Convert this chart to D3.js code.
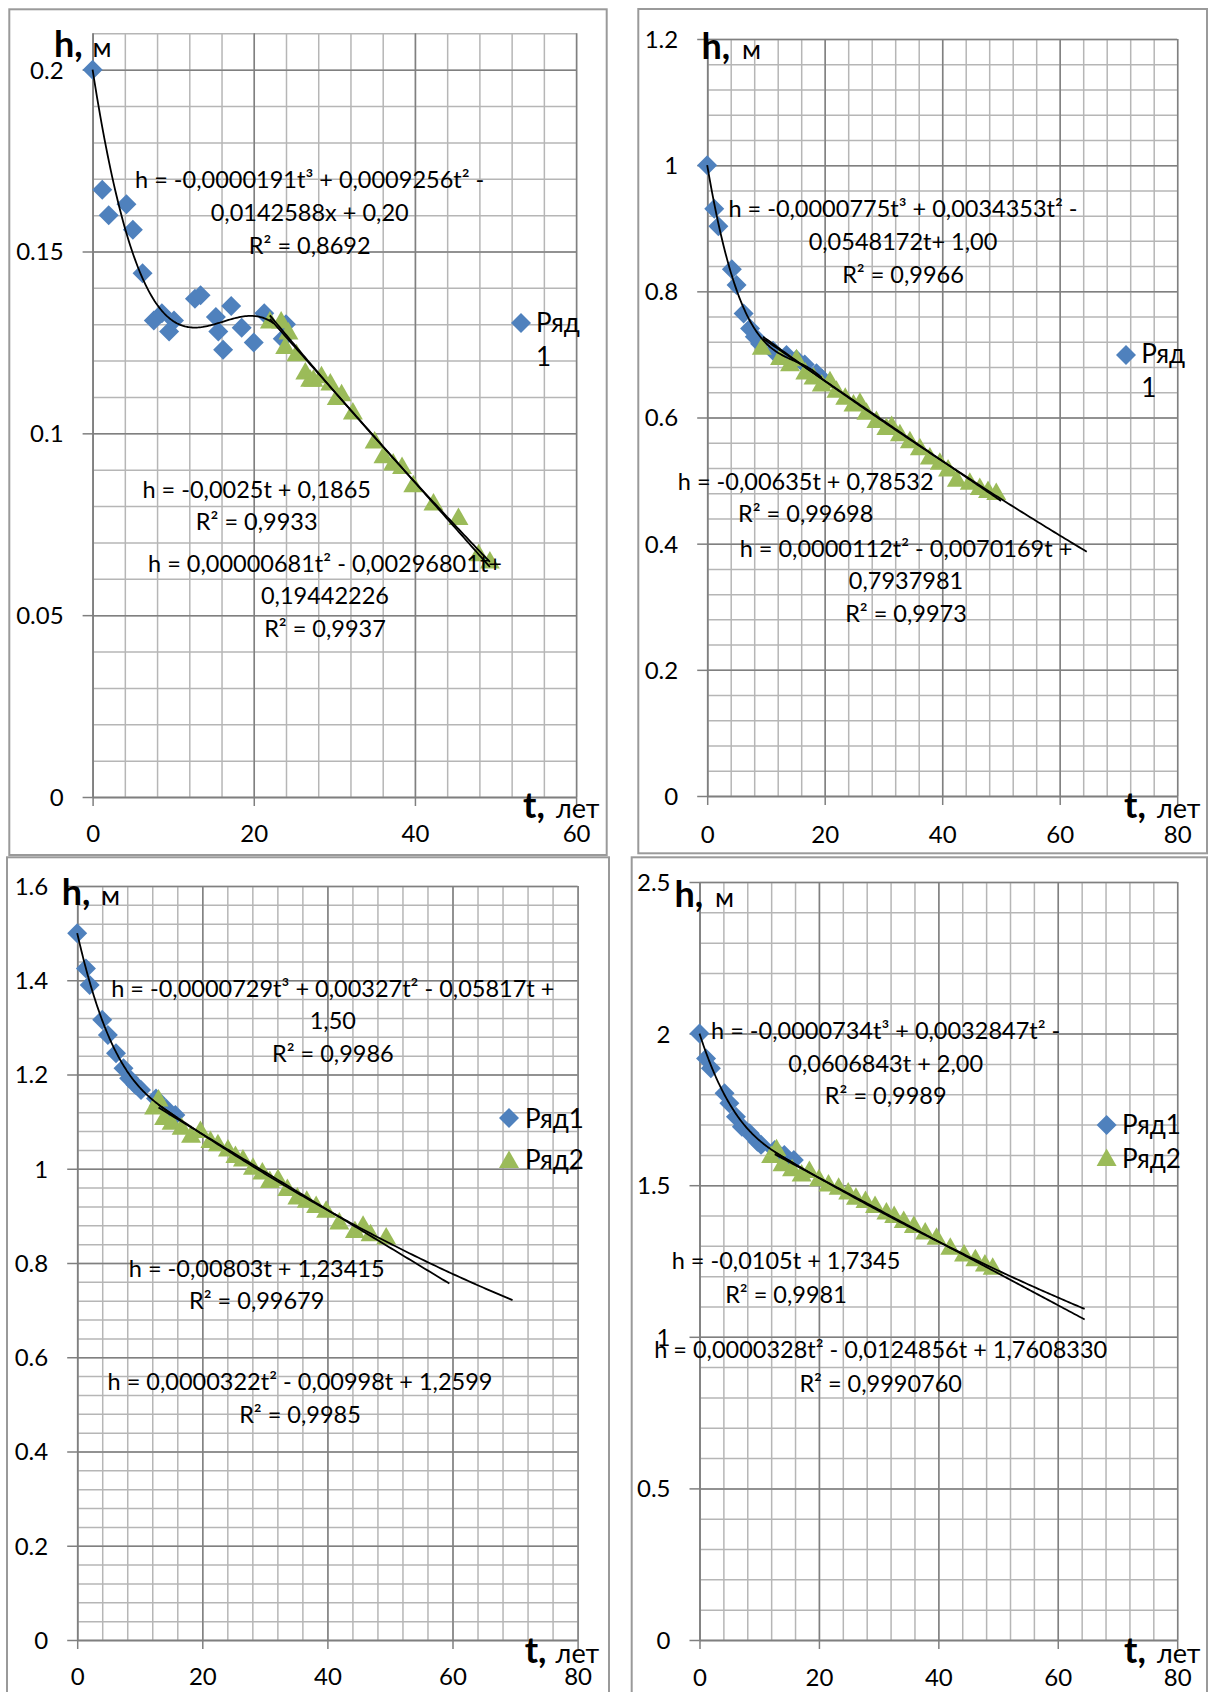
<!DOCTYPE html>
<html>
<head>
<meta charset="utf-8">
<script src="https://cdn.jsdelivr.net/npm/d3@7"></script>
<style>
  html, body { margin: 0; padding: 0; background: #fff; }
  svg { display: block; }
  text { font-family: Lato, "Open Sans", sans-serif; fill: #000; }
</style>
</head>
<body>
<svg id="chart" width="1210" height="1692"></svg>
<script>
// ---------- Panel 1: h0 = 0.2 m ----------
const p1Row1 = [[0,0.200],[1.2,0.167],[2.0,0.160],[4.2,0.163],[5.0,0.156],[6.2,0.144],[7.6,0.131],[8.6,0.133],[9.5,0.128],[10.1,0.131],[12.7,0.137],[13.4,0.138],[15.3,0.132],[15.6,0.128],[16.2,0.123],[17.2,0.135],[18.5,0.129],[20.0,0.125],[21.3,0.133],[23.6,0.126],[24.0,0.130]];
const p1Row2 = [[22.0,0.131],[23.4,0.131],[24.3,0.128],[23.9,0.124],[25.3,0.122],[26.4,0.117],[27.0,0.115],[27.4,0.115],[28.4,0.116],[29.5,0.114],[30.3,0.110],[30.9,0.111],[32.3,0.106],[35.0,0.098],[36.1,0.094],[37.3,0.092],[38.4,0.091],[39.8,0.086],[42.3,0.081],[45.4,0.077],[47.9,0.067],[49.3,0.065]];
const p1Cubic = [0.20, -0.0142588, 0.0009256, -0.0000191];
const p1Linear = [0.1865, -0.0025];
const p1Quad = [0.19442226, -0.00296801, 0.00000681];
const p1CubicSpan = [0, 22.5], p1LinearSpan = [22, 49.3], p1QuadSpan = [22, 49.3];
const p1CubicText = ["h = -0,0000191t³ + 0,0009256t² -", "0,0142588x + 0,20", "R² = 0,8692"];
const p1LinearText = ["h = -0,0025t + 0,1865", "R² = 0,9933"];
const p1QuadText = ["h = 0,00000681t² - 0,00296801t+", "0,19442226", "R² = 0,9937"];
const p1XTicks = [0, 20, 40, 60];
const p1YTicks = [0, 0.05, 0.1, 0.15, 0.2];
const p1YLabels = ["0", "0.05", "0.1", "0.15", "0.2"];
const p1Legend = ["Ряд", "1"];

// ---------- Panel 2: h0 = 1.0 m ----------
const p2Row1 = [[0,1.000],[1.2,0.931],[1.9,0.903],[4.2,0.835],[5.0,0.810],[6.2,0.765],[7.3,0.741],[8.1,0.728],[9.0,0.717],[11.2,0.706],[13.5,0.699],[15.2,0.692],[16.6,0.684],[18.6,0.670],[19.5,0.662]];
const p2Row2 = [[9.3,0.712],[12.4,0.696],[14.1,0.686],[15.2,0.694],[16.7,0.673],[18.1,0.665],[19.5,0.654],[20.9,0.659],[22.0,0.644],[23.5,0.633],[24.9,0.622],[26.0,0.625],[27.1,0.609],[28.8,0.596],[30.5,0.585],[31.4,0.588],[32.8,0.575],[34.5,0.564],[36.2,0.553],[37.9,0.538],[39.6,0.530],[41.0,0.519],[42.5,0.503],[44.7,0.498],[46.4,0.490],[47.8,0.485],[49.2,0.482]];
const p2Cubic = [1.00, -0.0548172, 0.0034353, -0.0000775];
const p2Linear = [0.78532, -0.00635];
const p2Quad = [0.7937981, -0.0070169, 0.0000112];
const p2CubicSpan = [0, 19.5], p2LinearSpan = [9.5, 50], p2QuadSpan = [9.5, 64.6];
const p2CubicText = ["h = -0,0000775t³ + 0,0034353t² -", "0,0548172t+ 1,00", "R² = 0,9966"];
const p2LinearText = ["h = -0,00635t + 0,78532", "R² = 0,99698"];
const p2QuadText = ["h = 0,0000112t² - 0,0070169t +", "0,7937981", "R² = 0,9973"];
const p2XTicks = [0, 20, 40, 60, 80];
const p2YTicks = [0, 0.2, 0.4, 0.6, 0.8, 1, 1.2];
const p2YLabels = ["0", "0.2", "0.4", "0.6", "0.8", "1", "1.2"];
const p2Legend = ["Ряд", "1"];

// ---------- Panel 3: h0 = 1.5 m ----------
const p3Row1 = [[0,1.500],[1.4,1.425],[2.0,1.390],[4.0,1.316],[4.9,1.284],[6.2,1.245],[7.4,1.213],[8.3,1.192],[9.3,1.178],[10.2,1.167],[12.6,1.149],[14.2,1.128],[15.7,1.114]];
const p3Row2 = [[12.3,1.132],[13.0,1.149],[13.9,1.110],[15.1,1.100],[16.7,1.089],[18.2,1.072],[19.7,1.082],[21.3,1.061],[22.5,1.054],[24.1,1.043],[25.3,1.029],[26.5,1.022],[28.1,1.004],[29.6,0.994],[30.8,0.976],[32.1,0.980],[33.6,0.959],[35.2,0.941],[36.7,0.934],[38.2,0.923],[39.8,0.913],[41.9,0.888],[44.4,0.870],[45.7,0.881],[46.9,0.863],[49.4,0.856]];
const p3Cubic = [1.50, -0.05817, 0.00327, -0.0000729];
const p3Linear = [1.23415, -0.00803];
const p3Quad = [1.2599, -0.00998, 0.0000322];
const p3CubicSpan = [0, 16], p3LinearSpan = [13, 59.5], p3QuadSpan = [13, 69.6];
const p3CubicText = ["h = -0,0000729t³ + 0,00327t² - 0,05817t +", "1,50", "R² = 0,9986"];
const p3LinearText = ["h = -0,00803t + 1,23415", "R² = 0,99679"];
const p3QuadText = ["h = 0,0000322t² - 0,00998t + 1,2599", "R² = 0,9985"];
const p3XTicks = [0, 20, 40, 60, 80];
const p3YTicks = [0, 0.2, 0.4, 0.6, 0.8, 1, 1.2, 1.4, 1.6];
const p3YLabels = ["0", "0.2", "0.4", "0.6", "0.8", "1", "1.2", "1.4", "1.6"];
const p3Legend = ["Ряд1", "Ряд2"];

// ---------- Panel 4: h0 = 2.0 m ----------
const p4Row1 = [[0,2.000],[1.1,1.918],[1.9,1.886],[4.2,1.803],[5.0,1.770],[6.1,1.726],[7.1,1.693],[8.4,1.671],[9.7,1.643],[10.3,1.633],[12.6,1.616],[14.2,1.600],[15.8,1.583]];
const p4Row2 = [[12.0,1.600],[12.9,1.622],[13.9,1.572],[15.5,1.556],[17.1,1.539],[18.4,1.550],[20.0,1.523],[21.6,1.506],[23.3,1.495],[24.9,1.479],[26.2,1.462],[27.8,1.451],[29.4,1.435],[31.3,1.413],[32.6,1.402],[34.2,1.385],[35.9,1.369],[37.8,1.347],[39.7,1.330],[42.0,1.297],[44.3,1.275],[46.2,1.259],[47.8,1.242],[49.1,1.231]];
const p4Cubic = [2.00, -0.0606843, 0.0032847, -0.0000734];
const p4Linear = [1.7345, -0.0105];
const p4Quad = [1.7608330, -0.0124856, 0.0000328];
const p4CubicSpan = [0, 16], p4LinearSpan = [12.6, 64.5], p4QuadSpan = [12.6, 64.5];
const p4CubicText = ["h = -0,0000734t³ + 0,0032847t² -", "0,0606843t + 2,00", "R² = 0,9989"];
const p4LinearText = ["h = -0,0105t + 1,7345", "R² = 0,9981"];
const p4QuadText = ["h = 0,0000328t² - 0,0124856t + 1,7608330", "R² = 0,9990760"];
const p4XTicks = [0, 20, 40, 60, 80];
const p4YTicks = [0, 0.5, 1, 1.5, 2, 2.5];
const p4YLabels = ["0", "0.5", "1", "1.5", "2", "2.5"];
const p4Legend = ["Ряд1", "Ряд2"];

// ---------- colours ----------
const BLUE = "#4f81bd", GREEN = "#9bbb59";
const MINOR = "#b6b6b6", MAJOR = "#808080", AXIS = "#7f7f7f", FRAME = "#9a9a9a";

// ---------- panel layout (frame, plot area, text anchors) ----------
const panels = [
  {
    frame: [9.3, 9.3, 606.7, 855], plot: [92.6, 33.3, 576.1, 797],
    xMax: 60, yMax: 0.21, xMinor: 4, yMinor: 0.01, xMajor: 20, yMajor: 0.05,
    xTicks: p1XTicks, yTicks: p1YTicks, yLabels: p1YLabels, xLabelY: 45,
    row1: p1Row1, row2: p1Row2,
    trends: [[p1Cubic, p1CubicSpan], [p1Linear, p1LinearSpan], [p1Quad, p1QuadSpan]],
    texts: [[p1CubicText, 309.7, 188.3, 32.8], [p1LinearText, 256.7, 498.3, 31.7], [p1QuadText, 325, 571.7, 32.5]],
    hTitle: [54, 56.7, 92.6], tTitle: [523, 818, 556],
    legend: p1Legend, legendWrapped: true, legendAt: [521, 323, 536, 331.7, 366]
  },
  {
    frame: [638.3, 9, 1207, 853.3], plot: [707.2, 39, 1177.2, 796],
    xMax: 80, yMax: 1.2, xMinor: 4, yMinor: 0.04, xMajor: 20, yMajor: 0.2,
    xTicks: p2XTicks, yTicks: p2YTicks, yLabels: p2YLabels, xLabelY: 46.5,
    row1: p2Row1, row2: p2Row2,
    trends: [[p2Cubic, p2CubicSpan], [p2Linear, p2LinearSpan], [p2Quad, p2QuadSpan]],
    texts: [[p2CubicText, 903, 216.7, 33], [p2LinearText, 805.7, 490, 31.7], [p2QuadText, 906, 556.7, 32.5]],
    hTitle: [701.5, 59.3, 742], tTitle: [1124, 818.3, 1157],
    legend: p2Legend, legendWrapped: true, legendAt: [1126, 355, 1141.3, 362.7, 397]
  },
  {
    frame: [7, 857.3, 609, 1700], plot: [77.2, 886, 577.6, 1640],
    xMax: 80, yMax: 1.6, xMinor: 4, yMinor: 0.04, xMajor: 20, yMajor: 0.2,
    xTicks: p3XTicks, yTicks: p3YTicks, yLabels: p3YLabels, xLabelY: 45,
    row1: p3Row1, row2: p3Row2,
    trends: [[p3Cubic, p3CubicSpan], [p3Linear, p3LinearSpan], [p3Quad, p3QuadSpan]],
    texts: [[p3CubicText, 332.8, 996.7, 32.5], [p3LinearText, 256.7, 1276.8, 32.5], [p3QuadText, 300, 1390, 32.7]],
    hTitle: [61.7, 905, 101], tTitle: [524.7, 1662.7, 555.6],
    legend: p3Legend, legendWrapped: false, legendAt: [509, 1118, 525, 1127.5, 1160, 1169]
  },
  {
    frame: [631.7, 857.3, 1207, 1700], plot: [699.5, 882, 1177.2, 1640],
    xMax: 80, yMax: 2.5, xMinor: 4, yMinor: 0.1, xMajor: 20, yMajor: 0.5,
    xTicks: p4XTicks, yTicks: p4YTicks, yLabels: p4YLabels, xLabelY: 46,
    row1: p4Row1, row2: p4Row2,
    trends: [[p4Cubic, p4CubicSpan], [p4Linear, p4LinearSpan], [p4Quad, p4QuadSpan]],
    texts: [[p4CubicText, 885.7, 1039.3, 32.4], [p4LinearText, 786, 1269.3, 34], [p4QuadText, 880.7, 1358.3, 33.4]],
    hTitle: [674.5, 906.7, 715], tTitle: [1124, 1663.3, 1157],
    legend: p4Legend, legendWrapped: false, legendAt: [1106.6, 1125, 1122, 1134, 1158, 1167.5]
  }
];

const svg = d3.select("#chart");
svg.append("rect").attr("width", 1210).attr("height", 1692).attr("fill", "#fff");

// marker shapes: square diamond and upward triangle
const diamondPath = "M0,-10L10,0L0,10L-10,0Z";
const trianglePath = "M0,-9.5L10,8L-10,8Z";

const poly = (c, t) => c.reduce((s, k, i) => s + k * Math.pow(t, i), 0);
const steps = (n, step) => d3.range(0, Math.round(n / step) + 1).map(i => +(i * step).toFixed(6));
const FONT = "Lato, 'Open Sans', sans-serif";

panels.forEach(p => {
  const [fx0, fy0, fx1, fy1] = p.frame;
  const [L, T, R, B] = p.plot;
  const g = svg.append("g");

  // panel frame
  g.append("rect").attr("x", fx0).attr("y", fy0)
    .attr("width", fx1 - fx0).attr("height", fy1 - fy0)
    .attr("fill", "#fff").attr("stroke", FRAME).attr("stroke-width", 2);

  const x = d3.scaleLinear().domain([0, p.xMax]).range([L, R]);
  const y = d3.scaleLinear().domain([0, p.yMax]).range([B, T]);

  // minor gridlines
  g.append("g").attr("transform", `translate(0,${B})`)
    .call(d3.axisBottom(x).tickValues(steps(p.xMax, p.xMinor)).tickSize(-(B - T)).tickFormat(""))
    .call(a => a.select(".domain").remove())
    .call(a => a.selectAll("line").attr("stroke", MINOR).attr("stroke-width", 1.5));
  g.append("g").attr("transform", `translate(${L},0)`)
    .call(d3.axisLeft(y).tickValues(steps(p.yMax, p.yMinor)).tickSize(-(R - L)).tickFormat(""))
    .call(a => a.select(".domain").remove())
    .call(a => a.selectAll("line").attr("stroke", MINOR).attr("stroke-width", 1.5));

  // major gridlines
  g.append("g").attr("transform", `translate(0,${B})`)
    .call(d3.axisBottom(x).tickValues(steps(p.xMax, p.xMajor)).tickSize(-(B - T)).tickFormat(""))
    .call(a => a.select(".domain").remove())
    .call(a => a.selectAll("line").attr("stroke", MAJOR).attr("stroke-width", 1.5));
  g.append("g").attr("transform", `translate(${L},0)`)
    .call(d3.axisLeft(y).tickValues(p.yTicks).tickSize(-(R - L)).tickFormat(""))
    .call(a => a.select(".domain").remove())
    .call(a => a.selectAll("line").attr("stroke", MAJOR).attr("stroke-width", 1.5));

  // axes with outward tick marks and labels
  g.append("g").attr("transform", `translate(0,${B})`)
    .call(d3.axisBottom(x).tickValues(p.xTicks).tickSize(9).tickSizeOuter(0))
    .call(a => a.select(".domain").attr("stroke", AXIS).attr("stroke-width", 1.5))
    .call(a => a.selectAll("line").attr("stroke", AXIS).attr("stroke-width", 1.5))
    .call(a => a.selectAll("text").attr("y", p.xLabelY).attr("dy", null)
      .attr("font-size", 24).attr("font-family", FONT).attr("fill", "#000"));
  g.append("g").attr("transform", `translate(${L},0)`)
    .call(d3.axisLeft(y).tickValues(p.yTicks).tickSize(10).tickPadding(19).tickSizeOuter(0)
      .tickFormat((d, i) => p.yLabels[i]))
    .call(a => a.select(".domain").attr("stroke", AXIS).attr("stroke-width", 1.5))
    .call(a => a.selectAll("line").attr("stroke", AXIS).attr("stroke-width", 1.5))
    .call(a => a.selectAll("text").attr("dy", "0.35em")
      .attr("font-size", 24).attr("font-family", FONT).attr("fill", "#000"));

  // series points
  g.append("g").selectAll("path").data(p.row1).join("path")
    .attr("d", diamondPath).attr("fill", BLUE)
    .attr("transform", d => `translate(${x(d[0])},${y(d[1])})`);
  g.append("g").selectAll("path").data(p.row2).join("path")
    .attr("d", trianglePath).attr("fill", GREEN)
    .attr("transform", d => `translate(${x(d[0])},${y(d[1])})`);

  // trendlines drawn from their stated equations
  const line = d3.line().x(d => x(d[0])).y(d => y(d[1]));
  p.trends.forEach(([coef, span]) => {
    const pts = d3.range(0, 121).map(i => {
      const t = span[0] + (span[1] - span[0]) * i / 120;
      return [t, poly(coef, t)];
    });
    g.append("path").attr("d", line(pts)).attr("fill", "none")
      .attr("stroke", "#000").attr("stroke-width", 1.8);
  });

  // trendline equations
  p.texts.forEach(([lines, cx, by, lh]) => {
    const tx = g.append("text").attr("text-anchor", "middle").attr("font-size", 23.5);
    lines.forEach((s, i) => tx.append("tspan").attr("x", cx).attr("y", by + i * lh).text(s));
  });

  // axis titles
  g.append("text").attr("x", p.hTitle[0]).attr("y", p.hTitle[1])
    .attr("font-size", 36).attr("font-weight", 700).text("h,");
  g.append("text").attr("x", p.hTitle[2]).attr("y", p.hTitle[1])
    .attr("font-size", 27).text("м");
  g.append("text").attr("x", p.tTitle[0]).attr("y", p.tTitle[1])
    .attr("font-size", 36).attr("font-weight", 700).text("t,");
  g.append("text").attr("x", p.tTitle[2]).attr("y", p.tTitle[1])
    .attr("font-size", 27).text("лет");

  // legend
  const la = p.legendAt;
  g.append("path").attr("d", diamondPath).attr("fill", BLUE)
    .attr("transform", `translate(${la[0]},${la[1]})`);
  if (p.legendWrapped) {
    g.append("text").attr("x", la[2]).attr("y", la[3]).attr("font-size", 26).text(p.legend[0]);
    g.append("text").attr("x", la[2]).attr("y", la[4]).attr("font-size", 26).text(p.legend[1]);
  } else {
    g.append("text").attr("x", la[2]).attr("y", la[3]).attr("font-size", 26).text(p.legend[0]);
    g.append("path").attr("d", trianglePath).attr("fill", GREEN)
      .attr("transform", `translate(${la[0]},${la[4]})`);
    g.append("text").attr("x", la[2]).attr("y", la[5]).attr("font-size", 26).text(p.legend[1]);
  }
});
</script>
</body>
</html>
